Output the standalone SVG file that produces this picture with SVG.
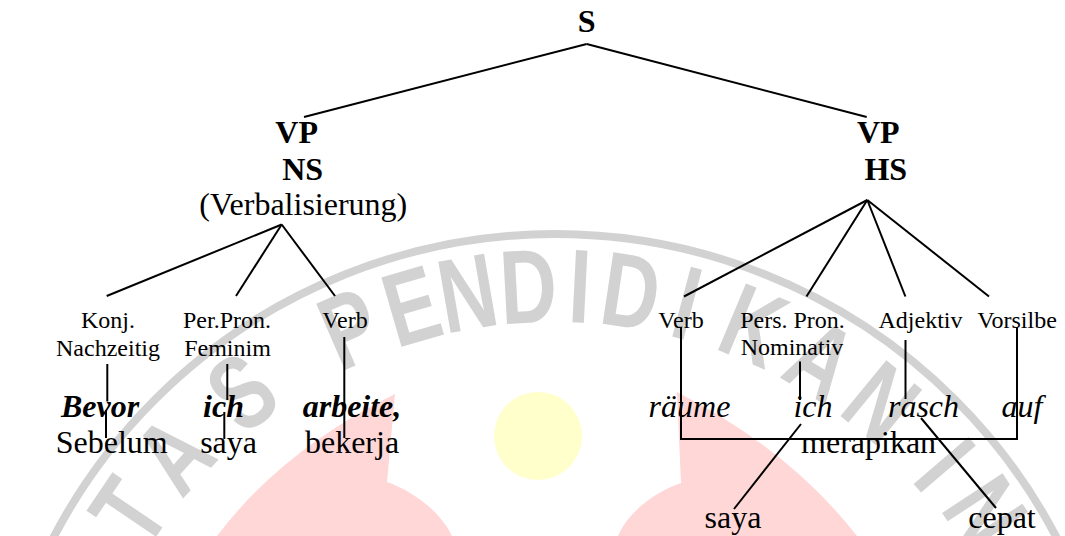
<svg xmlns="http://www.w3.org/2000/svg" width="1065" height="536" viewBox="0 0 1065 536">
<style>
.t{font-family:"Liberation Serif","Times New Roman",serif;fill:#000;text-anchor:middle}
.big{font-size:32px}
.b{font-weight:bold}
.i{font-style:italic}
.sm{font-size:24px}
.ln{stroke:#000;stroke-width:2;fill:none;stroke-linecap:butt}
.wm{font-family:"Liberation Sans",Arial,sans-serif;font-weight:bold;font-size:105px;fill:#d2d2d2;text-anchor:middle}
</style>
<rect width="1065" height="536" fill="#fff"/>
<g id="watermark">
  <path d="M395,394 L387,482 C410,490 440,510 452,536 L217,536 Q282,450 395,394 Z" fill="#ffd7d7"/>
  <path d="M677,392 L681,483 C655,492 628,512 618,536 L857,536 Q790,450 677,392 Z" fill="#ffd7d7"/>
  <circle cx="538" cy="436" r="44" fill="#ffffcc"/>
  <circle cx="555" cy="800" r="566" fill="none" stroke="#d2d2d2" stroke-width="8"/>
  <g class="wm">
    <text transform="translate(128.5,511.3) rotate(-55.9) scale(0.75,1)" y="37">T</text>
    <text transform="translate(173.5,454.1) rotate(-47.8) scale(0.75,1)" y="37">A</text>
    <text transform="translate(241.5,391.4) rotate(-37.5) scale(0.75,1)" y="37">S</text>
    <text transform="translate(349.7,327.7) rotate(-23.5) scale(0.75,1)" y="37">P</text>
    <text transform="translate(411.3,305.5) rotate(-16.2) scale(0.75,1)" y="37">E</text>
    <text transform="translate(467.3,292.5) rotate(-9.8) scale(0.75,1)" y="37">N</text>
    <text transform="translate(528.1,285.7) rotate(-3) scale(0.75,1)" y="37">D</text>
    <text transform="translate(580.1,285.6) rotate(2.8) scale(0.75,1)" y="37">I</text>
    <text transform="translate(631.1,290.7) rotate(8.5) scale(0.75,1)" y="37">D</text>
    <text transform="translate(687.4,302.3) rotate(14.9) scale(0.75,1)" y="37">I</text>
    <text transform="translate(753.7,324.9) rotate(22.7) scale(0.75,1)" y="37">K</text>
    <text transform="translate(821.8,359.5) rotate(31.2) scale(0.75,1)" y="37">A</text>
    <text transform="translate(881.9,402.1) rotate(39.4) scale(0.75,1)" y="37">N</text>
    <text transform="translate(945.4,464.2) rotate(49.3) scale(0.75,1)" y="37">I</text>
    <text transform="translate(985.9,512) rotate(56.8) scale(0.75,1)" y="37">N</text>
  </g>
</g>
<g id="connectors" class="ln">
  <line x1="586.7" y1="44" x2="304" y2="117"/>
  <line x1="586.7" y1="44" x2="866.7" y2="117"/>
  <line x1="281.7" y1="224.5" x2="106.7" y2="296"/>
  <line x1="281.7" y1="224.5" x2="236" y2="296"/>
  <line x1="281.7" y1="224.5" x2="335" y2="296"/>
  <line x1="867.3" y1="200" x2="684" y2="296.5"/>
  <line x1="867.3" y1="200" x2="806.5" y2="296.5"/>
  <line x1="867.3" y1="200" x2="905.4" y2="296.5"/>
  <line x1="867.3" y1="200" x2="989" y2="296.5"/>
  <line x1="107.3" y1="364" x2="107.3" y2="401.5"/>
  <line x1="106" y1="410" x2="106" y2="438"/>
  <line x1="227.3" y1="364" x2="227.3" y2="400"/>
  <line x1="224.3" y1="412" x2="224.3" y2="439"/>
  <line x1="344.3" y1="337" x2="344.3" y2="438"/>
  <polyline points="681,327 681,439 1017,439 1017,327"/>
  <line x1="800" y1="361.5" x2="800" y2="400"/>
  <line x1="905.5" y1="340" x2="905.5" y2="399"/>
  <line x1="801" y1="424" x2="734" y2="509"/>
  <line x1="921" y1="418" x2="996" y2="508"/>
</g>
<g id="node-S"><text class="t big b" x="586.7" y="32">S</text></g>
<g id="node-VP-NS">
  <text class="t big b" x="296.7" y="143">VP</text>
  <text class="t big b" x="302.7" y="180">NS</text>
  <text class="t big" x="303.3" y="215">(Verbalisierung)</text>
</g>
<g id="node-VP-HS">
  <text class="t big b" x="878.3" y="143">VP</text>
  <text class="t big b" x="885.8" y="180">HS</text>
</g>
<g id="node-konj">
  <text class="t sm" x="108" y="328">Konj.</text>
  <text class="t sm" x="108" y="356">Nachzeitig</text>
</g>
<g id="node-perpron">
  <text class="t sm" x="227" y="328">Per.Pron.</text>
  <text class="t sm" x="227.5" y="356">Feminim</text>
</g>
<g id="node-verb-ns"><text class="t sm" x="345" y="328">Verb</text></g>
<g id="node-bevor">
  <text class="t big b i" x="100" y="417">Bevor</text>
  <text class="t big" x="111.7" y="453">Sebelum</text>
</g>
<g id="node-ich-ns">
  <text class="t big b i" x="223.5" y="417">ich</text>
  <text class="t big" x="228.6" y="453">saya</text>
</g>
<g id="node-arbeite">
  <text class="t big b i" x="352" y="417">arbeite,</text>
  <text class="t big" x="352" y="453">bekerja</text>
</g>
<g id="node-verb-hs"><text class="t sm" x="681" y="328">Verb</text></g>
<g id="node-perspron">
  <text class="t sm" x="792.5" y="328">Pers. Pron.</text>
  <text class="t sm" x="792" y="355">Nominativ</text>
</g>
<g id="node-adjektiv"><text class="t sm" x="920.5" y="328">Adjektiv</text></g>
<g id="node-vorsilbe"><text class="t sm" x="1017" y="328">Vorsilbe</text></g>
<g id="node-raeume"><text class="t big i" x="689.5" y="417">räume</text></g>
<g id="node-ich-hs"><text class="t big i" x="813" y="417">ich</text></g>
<g id="node-rasch"><text class="t big i" x="923.5" y="417">rasch</text></g>
<g id="node-auf"><text class="t big i" x="1022" y="417">auf</text></g>
<g id="node-merapikan"><text class="t big" x="868.6" y="453">merapikan</text></g>
<g id="node-saya-hs"><text class="t big" x="733" y="528">saya</text></g>
<g id="node-cepat"><text class="t big" x="1002" y="528">cepat</text></g>
</svg>
